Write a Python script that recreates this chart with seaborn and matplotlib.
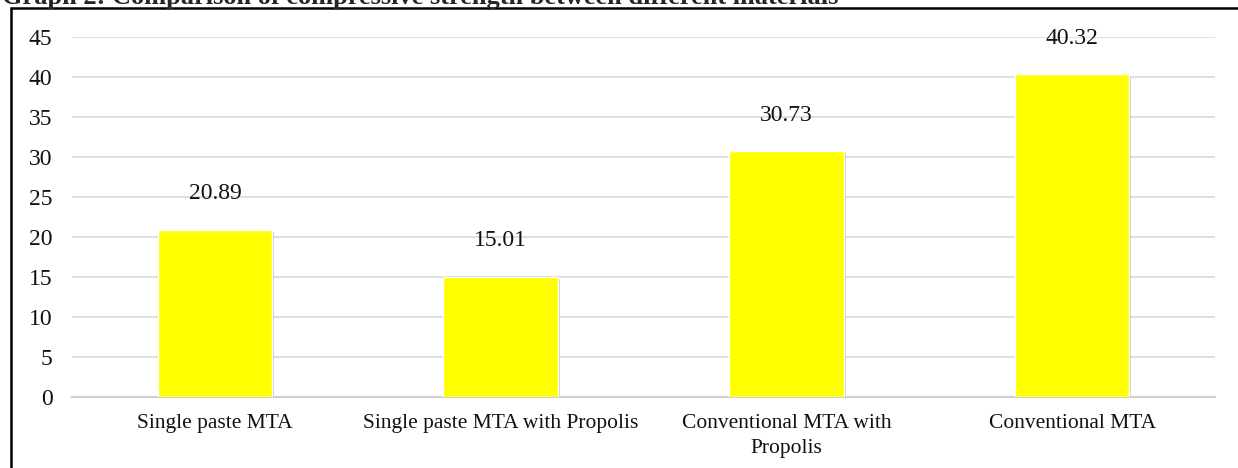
import matplotlib
matplotlib.use("Agg")
import matplotlib.pyplot as plt
import matplotlib.patheffects as pe
from matplotlib.patches import Rectangle
import seaborn as sns
import pandas as pd

# data
materials = ["Single paste MTA", "Single paste MTA with Propolis",
             "Conventional MTA with\nPropolis", "Conventional MTA"]
strength = [20.89, 15.01, 30.73, 40.32]
yticks = [0, 5, 10, 15, 20, 25, 30, 35, 40, 45]

df = pd.DataFrame({"material": materials, "strength": strength})

sns.set_theme(style="white")
plt.rcParams["font.family"] = ["Liberation Serif", "DejaVu Serif"]

fig = plt.figure(figsize=(12.38, 4.68), dpi=100)
ax = fig.add_axes([72 / 1238, 1 - 397 / 468, (1215 - 72) / 1238, (397 - 37) / 468])

sns.barplot(data=df, x="material", y="strength", color="#ffff00",
            width=0.4, saturation=1, ax=ax)

for bar in ax.patches:
    bar.set_path_effects([pe.SimplePatchShadow(offset=(1.5, -1.5), alpha=0.25),
                          pe.Normal()])
    bar.set_zorder(3)

for i, v in enumerate(strength):
    ax.annotate(f"{v:.2f}", (i, v), xytext=(0, 26), textcoords="offset points",
                ha="center", va="center", fontsize=17, color="#111111")

ax.set_ylim(0, 45)
ax.set_yticks(yticks)
ax.set_xlim(-0.5, 3.5)
ax.yaxis.grid(True, color="#d9d9d9", linewidth=1.2, zorder=0)
ax.set_axisbelow(True)
for s in ["top", "right", "left"]:
    ax.spines[s].set_visible(False)
ax.spines["bottom"].set_color("#d0d0d0")
ax.spines["bottom"].set_linewidth(1.5)
ax.tick_params(axis="y", labelsize=17, length=0, pad=14, colors="#111111")
ax.tick_params(axis="x", labelsize=15.5, length=0, pad=12, colors="#111111")
for lab in ax.get_xticklabels():
    lab.set_linespacing(1.45)
ax.set_xlabel("")
ax.set_ylabel("")

# border box and clipped title
fig.patches.append(Rectangle((11 / 1238, -0.1), 1.2, 1 - 8 / 468 + 0.1,
                             transform=fig.transFigure, fill=False,
                             edgecolor="black", linewidth=1.8))
fig.text(2 / 1238, 1 - 4 / 468,
         "Graph 2: Comparison of compressive strength between different materials",
         fontsize=19, fontweight="bold", va="baseline", ha="left")

fig.savefig("out.png", dpi=100)
